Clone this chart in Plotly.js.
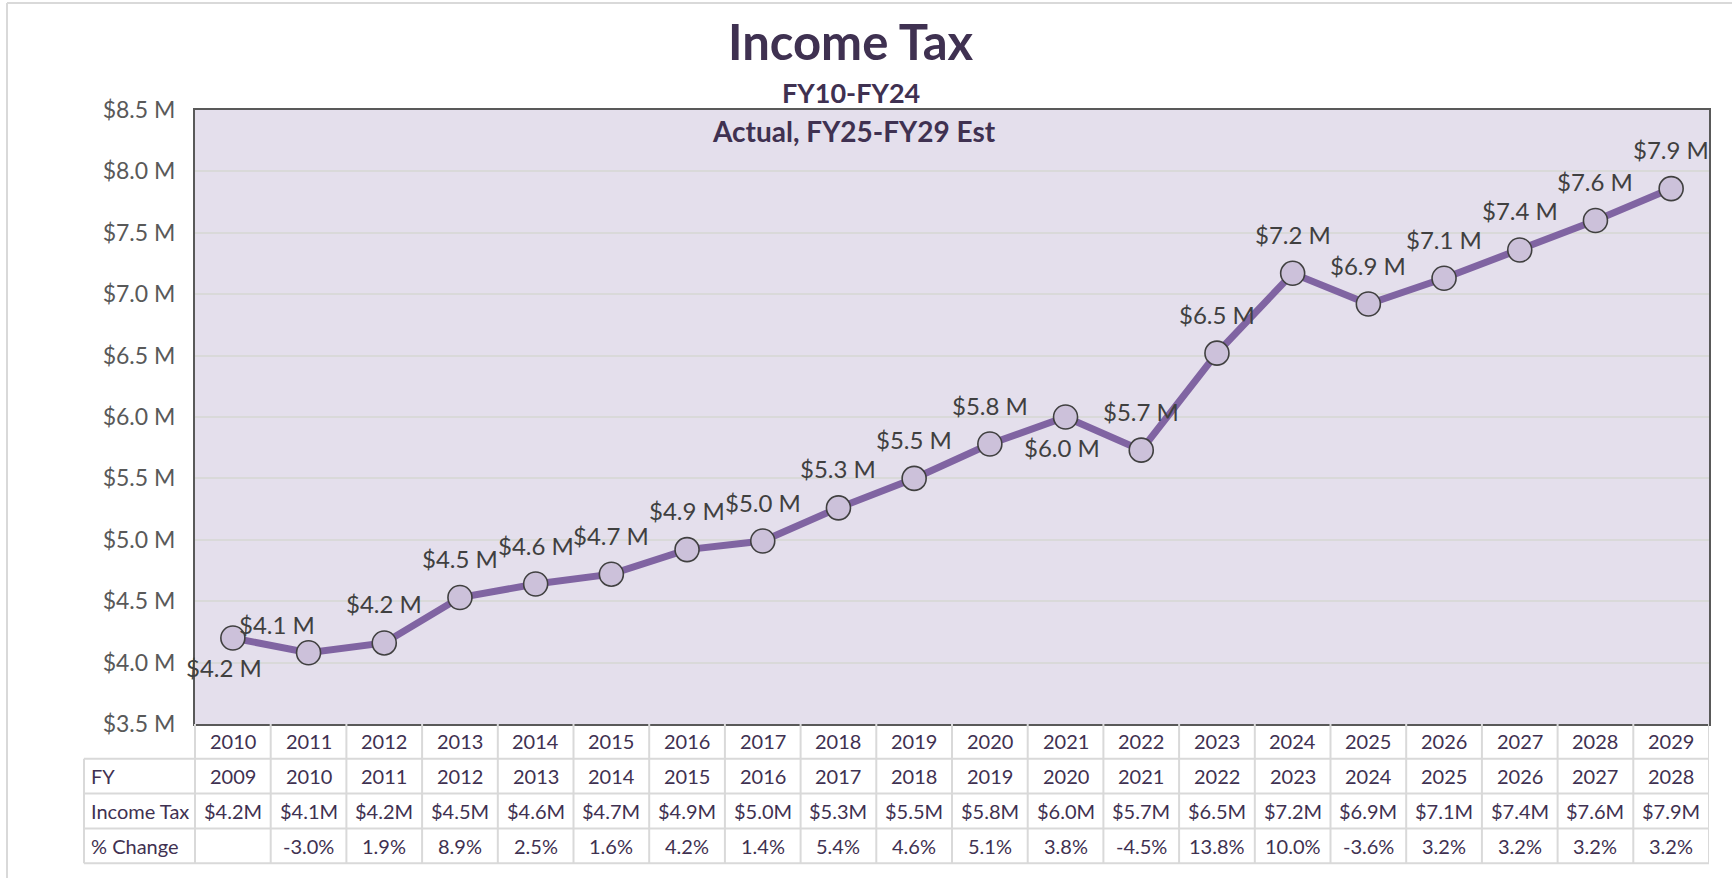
<!DOCTYPE html>
<html>
<head>
<meta charset="utf-8">
<script src="https://cdn.plot.ly/plotly-3.0.1.min.js"></script>
<style>
html,body{margin:0;padding:0;background:#ffffff;}
#chart{width:1732px;height:878px;}
</style>
</head>
<body>
<div id="chart"></div>
<script>
// ---------- data ----------
const years = ['2010','2011','2012','2013','2014','2015','2016','2017','2018','2019',
               '2020','2021','2022','2023','2024','2025','2026','2027','2028','2029'];
const fiscalYears = ['2009','2010','2011','2012','2013','2014','2015','2016','2017','2018',
                     '2019','2020','2021','2022','2023','2024','2025','2026','2027','2028'];
const incomeTax = [4.20, 4.08, 4.16, 4.53, 4.64, 4.72, 4.92, 4.99, 5.26, 5.50,
                   5.78, 6.00, 5.73, 6.52, 7.17, 6.92, 7.13, 7.36, 7.60, 7.86];
const pctChange = ['', '-3.0%', '1.9%', '8.9%', '2.5%', '1.6%', '4.2%', '1.4%', '5.4%', '4.6%',
                   '5.1%', '3.8%', '-4.5%', '13.8%', '10.0%', '-3.6%', '3.2%', '3.2%', '3.2%', '3.2%'];
const rowLabels = ['FY', 'Income Tax', '% Change'];
const titleText = 'Income Tax';
const subtitleLines = ['FY10-FY24', 'Actual, FY25-FY29 Est'];
const yRange = [3.5, 8.5];

// ---------- layout geometry ----------
const W = 1732, H = 878, ML = 195, MR = 23, MT = 110, MB = 154;
const PW = W - ML - MR, PH = H - MT - MB;
const PLOT_BOTTOM = H - MB;
const px = x => (x - ML) / PW;          // pixel x -> paper
const py = y => (PLOT_BOTTOM - y) / PH; // pixel y -> paper
const TABLE_LEFT = 84, ROW_H = 34.8;
const FONT = 'Lato, "Open Sans", sans-serif';
const TXT = '#3f3151';
const GRID = '#d9d9d9';

// label offsets (pixel) for data labels; default above the point
const labelShift = {0: [-9, -29], 1: [-32, 28], 11: [-4, -30]};

const fmt = v => '$' + v.toFixed(1);
const idx = years.map((_, i) => i);

const trace = {
  type: 'scatter',
  mode: 'lines+markers',
  x: idx,
  y: incomeTax,
  line: {color: '#8064a2', width: 7},
  marker: {size: 24, color: '#ccc1da', line: {color: '#404040', width: 1.6}},
  hoverinfo: 'skip',
  cliponaxis: false
};

const annotations = [];
const shapes = [];

// titles
annotations.push({xref: 'paper', yref: 'paper', x: px(851), y: py(41), xanchor: 'center', yanchor: 'middle',
  text: '<b>' + titleText + '</b>', showarrow: false, font: {family: FONT, size: 49, color: TXT}});
annotations.push({xref: 'paper', yref: 'paper', x: px(851), y: py(92), xanchor: 'center', yanchor: 'middle',
  text: '<b>' + subtitleLines[0] + '</b>', showarrow: false, font: {family: FONT, size: 27, color: TXT}});
annotations.push({xref: 'paper', yref: 'paper', x: px(854), y: py(131), xanchor: 'center', yanchor: 'middle',
  text: '<b>' + subtitleLines[1] + '</b>', showarrow: false, font: {family: FONT, size: 28, color: TXT}});

// data labels
incomeTax.forEach((v, i) => {
  const s = labelShift[i] || [0, 39];
  annotations.push({x: i, y: v, xref: 'x', yref: 'y', text: fmt(v) + ' M', showarrow: false,
    xanchor: 'center', yanchor: 'middle', xshift: s[0], yshift: s[1],
    font: {family: FONT, size: 24, color: '#404040'}});
});

// table
const rowsTop = PLOT_BOTTOM;
const rowCenter = r => rowsTop + ROW_H * (r + 0.5);
const tableRows = [fiscalYears, incomeTax.map(v => fmt(v) + 'M'), pctChange];
years.forEach((yr, i) => {
  annotations.push({x: i, xref: 'x', yref: 'paper', y: py(rowCenter(0)), text: yr, showarrow: false,
    xanchor: 'center', yanchor: 'middle', font: {family: FONT, size: 20, color: TXT}});
  tableRows.forEach((row, r) => {
    if (!row[i]) return;
    annotations.push({x: i, xref: 'x', yref: 'paper', y: py(rowCenter(r + 1)), text: row[i], showarrow: false,
      xanchor: 'center', yanchor: 'middle', font: {family: FONT, size: 20, color: TXT}});
  });
});
rowLabels.forEach((lab, r) => {
  annotations.push({xref: 'paper', yref: 'paper', x: px(TABLE_LEFT + 5), y: py(rowCenter(r + 1)), text: lab,
    showarrow: false, xanchor: 'left', yanchor: 'middle', font: {family: FONT, size: 20, color: TXT}});
});

// table grid
const tableBottom = rowsTop + ROW_H * 4;
for (let r = 1; r <= 4; r++) {
  const yy = rowsTop + ROW_H * r;
  shapes.push({type: 'line', xref: 'paper', yref: 'paper', x0: px(TABLE_LEFT), x1: 1, y0: py(yy), y1: py(yy),
    line: {color: GRID, width: 2}});
}
for (let k = 1; k <= years.length; k++) {
  shapes.push({type: 'line', xref: 'x', yref: 'paper', x0: k - 0.5, x1: k - 0.5, y0: py(rowsTop), y1: py(tableBottom),
    line: {color: GRID, width: 2}});
}
shapes.push({type: 'line', xref: 'paper', yref: 'paper', x0: 0, x1: 0, y0: py(rowsTop), y1: py(tableBottom),
  line: {color: GRID, width: 2}});
shapes.push({type: 'line', xref: 'paper', yref: 'paper', x0: px(TABLE_LEFT), x1: px(TABLE_LEFT),
  y0: py(rowsTop + ROW_H), y1: py(tableBottom), line: {color: GRID, width: 2}});

// outer chart border (top and left)
shapes.push({type: 'line', xref: 'paper', yref: 'paper', x0: px(7), x1: px(W), y0: py(3), y1: py(3),
  line: {color: GRID, width: 2}});
shapes.push({type: 'line', xref: 'paper', yref: 'paper', x0: px(7), x1: px(7), y0: py(3), y1: py(H),
  line: {color: GRID, width: 2}});

const layout = {
  width: W, height: H,
  margin: {l: ML, r: MR, t: MT, b: MB, pad: 0},
  paper_bgcolor: '#ffffff',
  plot_bgcolor: '#e4dfec',
  showlegend: false,
  xaxis: {type: 'linear', range: [-0.5, years.length - 0.5], showticklabels: false, showgrid: false,
    zeroline: false, showline: true, mirror: true, linecolor: '#595959', linewidth: 2, ticks: '', fixedrange: true},
  yaxis: {range: yRange, dtick: 0.5, tick0: 3.5, tickformat: '.1f', tickprefix: '$', ticksuffix: ' M',
    showgrid: true, gridcolor: GRID, gridwidth: 2, zeroline: false, showline: true, mirror: true,
    linecolor: '#595959', linewidth: 2, ticks: 'outside', ticklen: 13, tickcolor: 'rgba(0,0,0,0)',
    tickfont: {family: FONT, size: 23, color: '#595959'}, fixedrange: true},
  annotations: annotations,
  shapes: shapes
};

Plotly.newPlot('chart', [trace], layout, {displayModeBar: false, staticPlot: true});
</script>
</body>
</html>
